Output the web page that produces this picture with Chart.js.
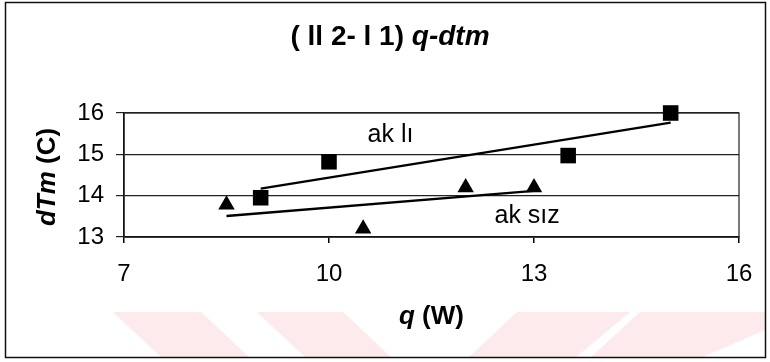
<!DOCTYPE html>
<html>
<head>
<meta charset="utf-8">
<script src="https://cdn.jsdelivr.net/npm/chart.js@4.4.1/dist/chart.umd.min.js"></script>
<style>
  html, body { margin: 0; padding: 0; background: #ffffff; }
  #wrap { width: 770px; height: 362px; position: relative; }
</style>
</head>
<body>
<div id="wrap"><canvas id="c" width="770" height="362"></canvas></div>
<script>
// q (W) and dTm (C) readings, two runs
const qAkli = [9.0, 10.0, 13.5, 15.0];
const dtmAkli = [13.95, 14.82, 14.97, 16.0];
const qAksiz = [8.5, 10.5, 12.0, 13.0];
const dtmAksiz = [13.78, 13.2, 14.2, 14.2];

const xTicks = [7, 10, 13, 16];
const yTicks = [13, 14, 15, 16];

const labelAkli = 'ak lı';
const labelAksiz = 'ak sız';

// least-squares line over the measured range
function linearFit(xs, ys) {
  const n = xs.length;
  const mx = xs.reduce((a, b) => a + b, 0) / n;
  const my = ys.reduce((a, b) => a + b, 0) / n;
  let sxy = 0, sxx = 0;
  for (let i = 0; i < n; i++) {
    sxy += (xs[i] - mx) * (ys[i] - my);
    sxx += (xs[i] - mx) * (xs[i] - mx);
  }
  const k = sxy / sxx;
  const x0 = Math.min(...xs), x1 = Math.max(...xs);
  return [{ x: x0, y: my + k * (x0 - mx) }, { x: x1, y: my + k * (x1 - mx) }];
}

const pts = (xs, ys) => xs.map((x, i) => ({ x, y: ys[i] }));

const FONT = '"Liberation Sans", Arial, sans-serif';

// frame, watermark bands, title, axis titles and series names
const decor = {
  id: 'decor',
  beforeDraw(chart) {
    const ctx = chart.ctx;
    ctx.save();
    ctx.fillStyle = '#ffffff';
    ctx.fillRect(0, 0, chart.width, chart.height);
    ctx.fillStyle = 'rgba(248, 196, 206, 0.36)';
    const bands = [
      [[113, 312], [201, 312], [250, 358], [162, 358]],
      [[257, 312], [343, 312], [392, 358], [306, 358]],
      [[517, 312], [630, 312], [575, 358], [468, 358]],
      [[640, 312], [765, 312], [765, 330], [700, 358], [590, 358]]
    ];
    bands.forEach(b => {
      ctx.beginPath();
      ctx.moveTo(b[0][0], b[0][1]);
      for (let i = 1; i < b.length; i++) ctx.lineTo(b[i][0], b[i][1]);
      ctx.closePath();
      ctx.fill();
    });
    ctx.restore();
  },
  afterDraw(chart) {
    const ctx = chart.ctx;
    const xs = chart.scales.x, ys = chart.scales.y;
    ctx.save();
    ctx.strokeStyle = '#111';
    ctx.lineWidth = 1.5;
    ctx.strokeRect(5.5, 2.5, 760, 355);

    ctx.fillStyle = '#000';
    ctx.textBaseline = 'middle';

    // title: plain part then italic part, centred as one string
    const t1 = '( ll 2- l 1) ', t2 = 'q-dtm';
    const f1 = 'bold 28px ' + FONT, f2 = 'italic bold 28px ' + FONT;
    ctx.font = f1; const w1 = ctx.measureText(t1).width;
    ctx.font = f2; const w2 = ctx.measureText(t2).width;
    let tx = 390 - (w1 + w2) / 2;
    ctx.textAlign = 'left';
    ctx.font = f1; ctx.fillText(t1, tx, 37);
    ctx.font = f2; ctx.fillText(t2, tx + w1, 37);

    // x axis title
    const a1 = 'q', a2 = ' (W)';
    const g1 = 'italic bold 26px ' + FONT, g2 = 'bold 26px ' + FONT;
    ctx.font = g1; const v1 = ctx.measureText(a1).width;
    ctx.font = g2; const v2 = ctx.measureText(a2).width;
    let ax = (xs.left + xs.right) / 2 - (v1 + v2) / 2;
    ctx.font = g1; ctx.fillText(a1, ax, 317);
    ctx.font = g2; ctx.fillText(a2, ax + v1, 317);

    // y axis title, rotated
    const b1 = 'dTm', b2 = ' (C)';
    ctx.font = g1; const u1 = ctx.measureText(b1).width;
    ctx.font = g2; const u2 = ctx.measureText(b2).width;
    ctx.translate(48, (ys.top + ys.bottom) / 2 + 2);
    ctx.rotate(-Math.PI / 2);
    const bx = -(u1 + u2) / 2;
    ctx.font = g1; ctx.fillText(b1, bx, 0);
    ctx.font = g2; ctx.fillText(b2, bx + u1, 0);
    ctx.setTransform(1, 0, 0, 1, 0, 0);

    // series names next to the fitted lines
    ctx.font = '25px ' + FONT;
    ctx.textAlign = 'center';
    ctx.fillText(labelAkli, xs.getPixelForValue(10.9), ys.getPixelForValue(15.47));
    ctx.fillText(labelAksiz, xs.getPixelForValue(12.9), ys.getPixelForValue(13.5));
    ctx.restore();
  }
};

new Chart(document.getElementById('c'), {
  type: 'scatter',
  data: {
    datasets: [
      {
        label: labelAkli,
        data: pts(qAkli, dtmAkli),
        pointStyle: 'rect',
        pointRadius: 11,
        pointHoverRadius: 11,
        backgroundColor: '#000',
        borderColor: '#000',
        borderWidth: 0,
        clip: false
      },
      {
        label: labelAksiz,
        data: pts(qAksiz, dtmAksiz),
        pointStyle: 'triangle',
        pointRadius: 9.5,
        pointHoverRadius: 9.5,
        backgroundColor: '#000',
        borderColor: '#000',
        borderWidth: 0,
        clip: false
      },
      {
        label: labelAkli + ' fit',
        type: 'line',
        data: linearFit(qAkli, dtmAkli),
        borderColor: '#000',
        borderWidth: 2.3,
        pointRadius: 0,
        fill: false
      },
      {
        label: labelAksiz + ' fit',
        type: 'line',
        data: linearFit(qAksiz, dtmAksiz),
        borderColor: '#000',
        borderWidth: 2.3,
        pointRadius: 0,
        fill: false
      }
    ]
  },
  options: {
    responsive: false,
    animation: false,
    layout: { padding: { top: 113, right: 31, bottom: 0, left: 0 } },
    plugins: {
      legend: { display: false },
      title: { display: false },
      tooltip: { enabled: false }
    },
    scales: {
      x: {
        type: 'linear',
        min: 7, max: 16,
        afterFit: s => { s.height = 125; },
        afterBuildTicks: s => { s.ticks = xTicks.map(v => ({ value: v })); },
        border: { display: true, color: '#000', width: 1.5 },
        grid: { display: true, drawOnChartArea: false, drawTicks: true, tickLength: 6, color: '#000', lineWidth: 1.5 },
        ticks: { color: '#000', font: { family: FONT, size: 24 }, padding: 17, maxRotation: 0, autoSkip: false }
      },
      y: {
        type: 'linear',
        min: 13, max: 16,
        afterFit: s => { s.width = 124; },
        afterBuildTicks: s => { s.ticks = yTicks.map(v => ({ value: v })); },
        border: { display: true, color: '#000', width: 1.5 },
        grid: { display: true, color: '#222', lineWidth: 1.2, drawTicks: true, tickLength: 8 },
        ticks: { color: '#000', font: { family: FONT, size: 24 }, padding: 12 }
      }
    }
  },
  plugins: [decor, {
    id: 'plotFrame',
    beforeDatasetsDraw(chart) {
      const a = chart.chartArea, ctx = chart.ctx;
      ctx.save();
      ctx.strokeStyle = '#222';
      ctx.lineWidth = 1.2;
      ctx.strokeRect(a.left, a.top, a.right - a.left, a.bottom - a.top);
      ctx.restore();
    }
  }]
});
</script>
</body>
</html>
